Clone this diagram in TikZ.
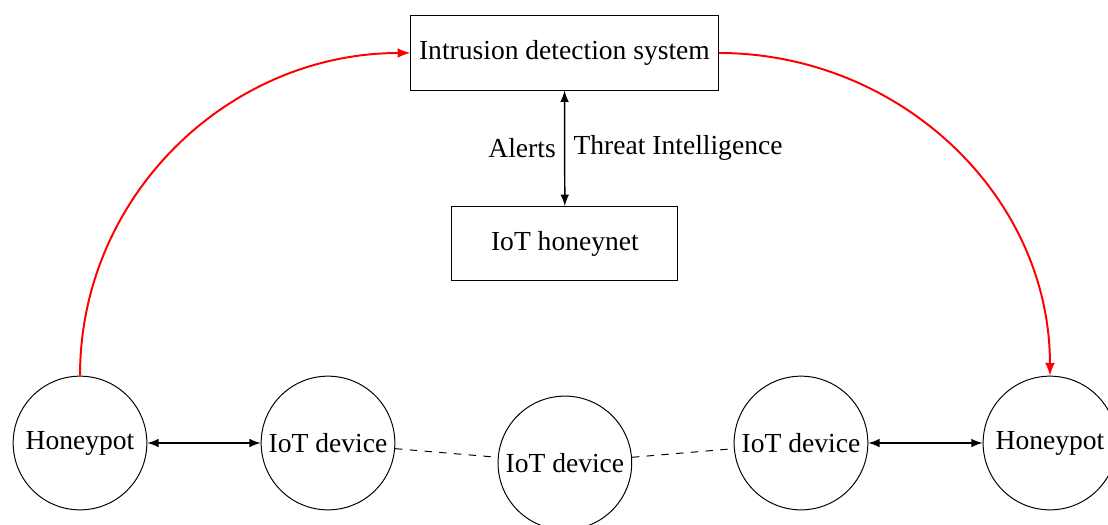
\documentclass[tikz,border=0pt]{standalone}
\usepackage{fontspec}
\setmainfont{Liberation Serif}
\usetikzlibrary{positioning,arrows.meta}

\begin{document}
\begin{tikzpicture}
		[every node/.style={font=\fontsize{11.2}{13}\selectfont},
		sysbox/.style={draw,rectangle,minimum height=1.06cm},
		device/.style={draw,circle,minimum size=1.91cm,inner sep=0pt},
		link/.style={semithick,latex-latex},
		feed/.style={red,thick,-latex}]
		\useasboundingbox (0,0) rectangle (15.829,7.5);
		\node[sysbox,minimum width=4.39cm] (ids) at (8.064,6.743) {Intrusion detection system};
		\node[sysbox,minimum width=3.23cm] (honeynet) at (8.07,4.02) {IoT honeynet};
		% bottom row
		\node[device] (pot1) at (1.143,1.171) {Honeypot};
		\node[device] (dev1) at (4.686,1.171) {IoT device};
		\node[device] (dev2) at (8.07,0.886) {IoT device};
		\node[device] (dev3) at (11.443,1.171) {IoT device};
		\node[device] (pot2) at (15.0,1.171) {Honeypot};
		\draw[link] (ids) -- (honeynet) node[midway,left] {Alerts} node[midway,right] {Threat Intelligence};
		\draw[link] (pot1) -- (dev1);
		\draw[link] (dev3) -- (pot2);
		\draw[dashed] (dev1) -- (dev2) -- (dev3);
		\draw[feed] (pot1.north) to[out=90,in=180] (ids.west);
		\draw[feed] (ids.east) to[out=0,in=90] (pot2.north);
\end{tikzpicture}
\end{document}
